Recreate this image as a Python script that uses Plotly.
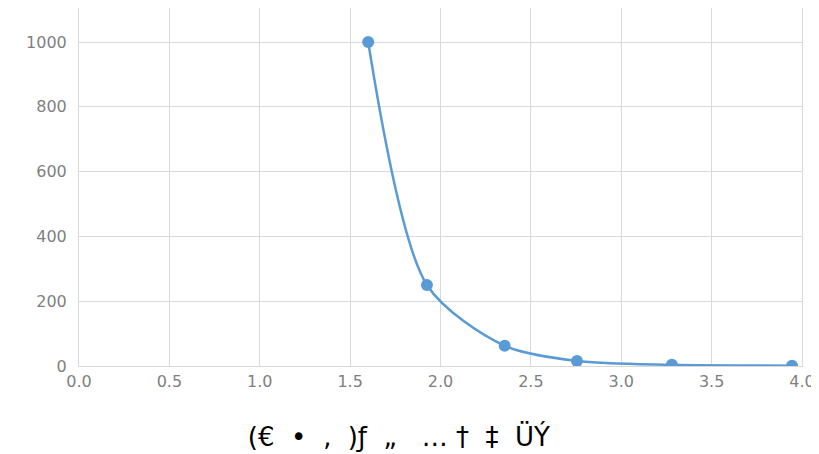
import plotly.graph_objects as go

# data
x_vals = [1.6, 1.925, 2.355, 2.755, 3.28, 3.945]
y_vals = [1000, 250, 62.5, 15.6, 3.9, 1.0]
sp = "\u00a0"
title_text = ("(€" + sp * 2 + "•" + sp * 2 + "‚" + sp * 2 + ")ƒ" + sp * 2 + "„"
              + sp * 3 + "…" + sp + "†" + sp * 2 + "‡" + sp * 2 + "ÜÝ")

blue = "#5B9BD5"
grid = "#D9D9D9"
tick_font = dict(family="DejaVu Sans", size=16, color="#7F7F7F")

fig = go.Figure()
fig.add_trace(go.Scatter(
    x=x_vals, y=y_vals, mode="lines+markers",
    line=dict(color=blue, width=2.5, shape="spline", smoothing=0.8),
    marker=dict(color=blue, size=12),
    showlegend=False,
))

# the page body adds an 8px offset, so the figure is 8px smaller
fig.update_layout(
    width=811, height=446,
    margin=dict(l=71, r=17, t=0, b=88),
    paper_bgcolor="white", plot_bgcolor="white",
    title=dict(text=title_text, x=0.482, xanchor="center",
               y=0.038, yanchor="middle", yref="container",
               font=dict(family="DejaVu Sans", size=26, color="black")),
)
fig.update_xaxes(
    range=[0, 4], dtick=0.5, tickformat=".1f",
    showgrid=True, gridcolor=grid, gridwidth=1,
    showline=True, linecolor=grid, linewidth=1, mirror=True,
    zeroline=False, ticks="", tickfont=tick_font, ticklabelstandoff=1,
)
fig.update_yaxes(
    range=[0, 1105], tickvals=[0, 200, 400, 600, 800, 1000],
    showgrid=True, gridcolor=grid, gridwidth=1,
    showline=True, linecolor=grid, linewidth=1, mirror=True,
    zeroline=False, ticks="", tickfont=tick_font, ticklabelstandoff=8,
)

fig.write_html("out.html")
